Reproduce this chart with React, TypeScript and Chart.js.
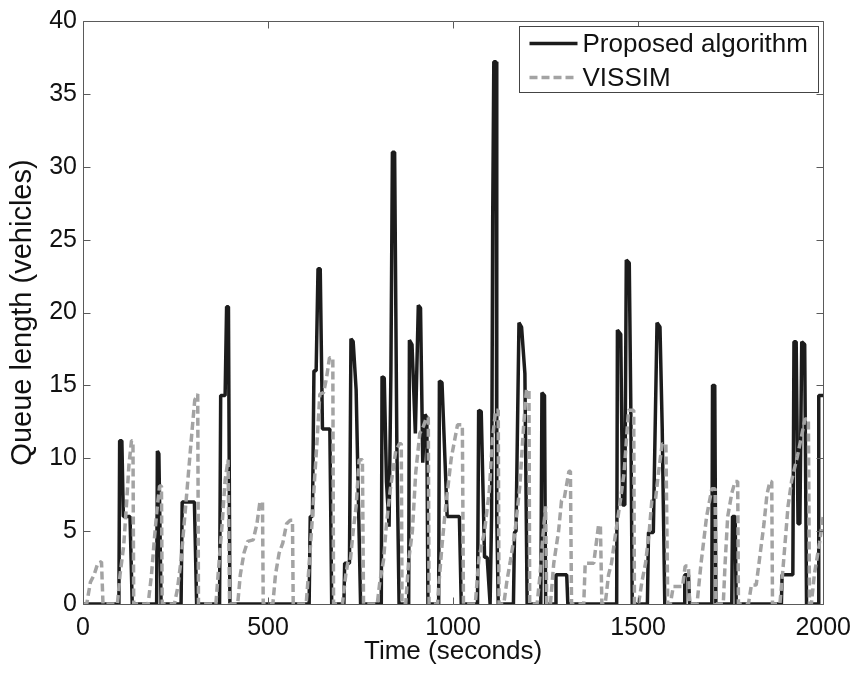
import React, { useEffect, useRef } from "react";
import { Chart, registerables } from "chart.js";

Chart.register(...registerables);

// ---- Data ----
const seriesNames = ["Proposed algorithm", "VISSIM"];

const proposedTime = [
  0, 97, 99, 105, 109, 127, 133,
  199, 201, 205, 211,
  265, 268, 301, 307,
  369, 372, 384, 388, 393, 397,
  611, 614, 620, 624, 630, 635, 641, 647, 667, 672,
  705, 707, 720, 724, 730, 738, 750,
  806, 808, 814, 820, 827, 832, 836, 842, 848, 854,
  880, 882, 889, 898, 906, 912, 918, 924, 929, 932,
  961, 963, 970, 984, 1017, 1022,
  1066, 1069, 1076, 1085, 1092, 1100, 1104, 1107, 1110, 1116, 1118, 1122,
  1163, 1166, 1170, 1178, 1185, 1194, 1200,
  1237, 1240, 1247, 1250,
  1276, 1278, 1307, 1310,
  1442, 1444, 1453, 1458, 1464, 1468, 1476, 1480, 1484,
  1525, 1528, 1541, 1551, 1559, 1565, 1572,
  1624, 1626, 1636, 1639,
  1699, 1701, 1707, 1710,
  1753, 1755, 1762, 1765,
  1887, 1889, 1918, 1921, 1927, 1932, 1937, 1942, 1950, 1955,
  1986, 1988, 2000,
];
const proposedQueue = [
  0, 0, 11.2, 11.2, 6.0, 6.0, 0,
  0, 10.5, 10.3, 0,
  0, 7.0, 7.0, 0,
  0, 14.3, 14.3, 20.4, 20.4, 0,
  0, 6.0, 6.0, 16.0, 16.0, 23.0, 23.0, 12.0, 12.0, 0,
  0, 2.8, 2.8, 18.2, 18.0, 14.7, 0,
  0, 15.6, 15.5, 8.4, 5.3, 16.0, 31.0, 31.0, 11.0, 0,
  0, 18.1, 17.8, 11.7, 20.5, 20.3, 9.7, 13.0, 12.8, 0,
  0, 15.3, 15.2, 6.0, 6.0, 0,
  0, 13.3, 13.2, 3.2, 3.2, 0, 6.0, 26.5, 37.2, 37.2, 6.0, 0,
  0, 4.9, 5.0, 19.3, 19.0, 15.8, 0,
  0, 14.5, 14.3, 0,
  0, 2.0, 2.0, 0,
  0, 18.8, 18.5, 6.8, 6.8, 23.6, 23.4, 14.0, 0,
  0, 4.9, 4.9, 19.3, 19.0, 12.1, 0,
  0, 2.0, 2.0, 0,
  0, 15.0, 15.0, 0,
  0, 6.0, 6.0, 0,
  0, 2.0, 2.0, 18.0, 18.0, 5.5, 5.5, 18.0, 17.8, 0,
  0, 14.3, 14.3,
];

const vissimTime = [
  0, 10, 20, 30, 40, 50, 54,
  93, 100, 110, 118, 124, 131, 135, 137,
  176, 185, 193, 200, 207, 212, 214,
  247, 255, 265, 275, 285, 295, 302, 310, 312,
  359, 368, 376, 384, 392, 396,
  418, 425, 435, 445, 460, 470, 478, 485, 487,
  513, 520, 530, 540, 550, 560, 566, 568,
  603, 612, 620, 626, 632, 640, 650, 658, 666, 675, 677,
  701, 710, 716, 722, 730, 738, 746, 755, 758,
  795, 802, 812, 820, 830, 845, 855, 860, 862,
  872, 880, 890, 899, 910, 920, 928, 933, 935,
  958, 962, 970, 980, 995, 1012, 1025, 1028,
  1060, 1070, 1085, 1098, 1106, 1115, 1122, 1124,
  1137, 1145, 1155, 1167, 1180, 1190, 1198, 1205, 1207,
  1227, 1235, 1242, 1250, 1253,
  1263, 1272, 1285, 1293, 1300, 1313, 1317, 1320,
  1353, 1357, 1380, 1393, 1398, 1402,
  1411, 1420, 1428, 1440, 1452, 1462, 1474, 1488, 1490,
  1501, 1510, 1520, 1530, 1537, 1547, 1555, 1565, 1575, 1580,
  1587, 1595, 1620, 1627, 1636, 1639,
  1659, 1670, 1678, 1685, 1699, 1708, 1710,
  1730, 1735, 1742, 1753, 1762, 1769, 1771,
  1798, 1806, 1819, 1830, 1840, 1848, 1856, 1861, 1863,
  1883, 1890, 1905, 1915, 1930, 1951, 1960, 1963,
  1968, 1976, 1990, 2000,
];
const vissimQueue = [
  0, 0, 1.5, 2.0, 2.8, 2.9, 0,
  0, 2.0, 4.0, 7.0, 9.5, 11.2, 11.2, 0,
  0, 2.0, 4.5, 6.5, 8.1, 8.1, 0,
  0, 1.0, 3.0, 6.0, 9.0, 12.0, 14.0, 14.4, 0,
  0, 3.0, 5.5, 8.5, 9.9, 0,
  0, 2.0, 3.5, 4.3, 4.4, 5.5, 7.0, 7.0, 0,
  0, 2.0, 3.5, 4.2, 5.5, 5.75, 5.75, 0,
  0, 3.0, 6.0, 8.7, 11.0, 14.4, 14.5, 15.5, 16.9, 16.9, 0,
  0, 2.0, 2.9, 2.9, 5.0, 6.7, 9.9, 9.9, 0,
  0, 1.5, 3.0, 5.5, 7.8, 10.5, 11.0, 11.0, 0,
  0, 3.0, 5.0, 9.0, 11.7, 12.2, 12.8, 12.8, 0,
  0, 1.5, 4.0, 6.7, 10.0, 12.3, 12.3, 0,
  0, 3.2, 5.0, 7.8, 11.2, 13.3, 13.3, 0,
  0, 1.5, 3.0, 4.9, 8.0, 12.0, 14.7, 14.7, 0,
  0, 2.0, 4.5, 6.7, 0,
  0, 2.8, 5.0, 7.1, 7.2, 9.1, 9.1, 0,
  0, 2.8, 2.8, 5.4, 5.4, 0,
  0, 2.0, 2.8, 5.0, 7.1, 9.0, 13.3, 13.3, 0,
  0, 1.5, 2.8, 5.0, 7.1, 7.2, 9.0, 11.0, 11.0, 0,
  0, 1.2, 1.2, 2.6, 2.6, 0,
  0, 2.8, 4.5, 6.0, 7.9, 7.9, 0,
  0, 2.8, 6.0, 7.6, 8.4, 8.4, 0,
  0, 1.3, 1.3, 3.5, 5.5, 7.5, 8.4, 8.4, 0,
  0, 2.0, 6.7, 8.5, 10.1, 12.7, 12.7, 0,
  0, 2.0, 4.2, 6.0,
];

const xTickValues = [0, 500, 1000, 1500, 2000];
const yTickValues = [0, 5, 10, 15, 20, 25, 30, 35, 40];

const FONT = "'Liberation Sans', Arial, Helvetica, sans-serif";

const boxPlugin = {
  id: "matlabBox",
  afterDatasetsDraw(chart: any) {
    const { ctx, chartArea: a, scales } = chart;
    ctx.save();
    ctx.strokeStyle = "#5a5a5a";
    ctx.lineWidth = 1;
    const L = Math.round(a.left) + 0.5;
    const R = Math.round(a.right) + 0.5;
    const T = Math.round(a.top) + 0.5;
    const B = Math.round(a.bottom) + 0.5;
    ctx.beginPath();
    ctx.rect(L, T, R - L, B - T);
    ctx.stroke();
    const tl = 7;
    ctx.beginPath();
    for (const v of xTickValues) {
      const px = Math.round(scales.x.getPixelForValue(v)) + 0.5;
      ctx.moveTo(px, B);
      ctx.lineTo(px, B - tl);
      ctx.moveTo(px, T);
      ctx.lineTo(px, T + tl);
    }
    for (const v of yTickValues) {
      const py = Math.round(scales.y.getPixelForValue(v)) + 0.5;
      ctx.moveTo(L, py);
      ctx.lineTo(L + tl, py);
      ctx.moveTo(R, py);
      ctx.lineTo(R - tl, py);
    }
    ctx.stroke();

    // legend box inside the axes (top-right)
    const bx = 519.5, by = 26.5, bw = 299, bh = 66;
    ctx.fillStyle = "#ffffff";
    ctx.fillRect(bx, by, bw, bh);
    ctx.strokeStyle = "#444";
    ctx.strokeRect(bx, by, bw, bh);
    const ds = chart.data.datasets;
    const rows = [43, 77];
    ds.forEach((d: any, i: number) => {
      const y = by + rows[i] - 26.5 + 0.5;
      ctx.save();
      ctx.strokeStyle = d.borderColor;
      ctx.lineWidth = d.borderWidth;
      ctx.setLineDash(d.borderDash || []);
      ctx.beginPath();
      ctx.moveTo(bx + 10, y);
      ctx.lineTo(bx + 58, y);
      ctx.stroke();
      ctx.restore();
      ctx.fillStyle = "#111";
      ctx.font = `26px ${FONT}`;
      ctx.textBaseline = "middle";
      ctx.textAlign = "left";
      ctx.fillText(d.label, bx + 63, y + 1);
    });
    ctx.restore();
  },
};

export default function App() {
  const ref = useRef<HTMLCanvasElement | null>(null);
  useEffect(() => {
    if (!ref.current) return;
    const proposed = proposedTime.map((t, i) => ({ x: t, y: proposedQueue[i] }));
    const vissim = vissimTime.map((t, i) => ({ x: t, y: vissimQueue[i] }));
    const chart = new Chart(ref.current, {
      type: "line",
      data: {
        datasets: [
          {
            label: seriesNames[0],
            data: proposed,
            borderColor: "#1c1c1c",
            borderWidth: 3.5,
            pointRadius: 0,
            tension: 0,
            borderJoinStyle: "bevel",
            order: 1,
          },
          {
            label: seriesNames[1],
            data: vissim,
            borderColor: "#a3a3a3",
            borderWidth: 3.5,
            borderDash: [8, 4],
            pointRadius: 0,
            tension: 0,
            borderJoinStyle: "bevel",
            order: 0,
          },
        ],
      },
      options: {
        animation: false,
        responsive: false,
        devicePixelRatio: 1,
        layout: { padding: { top: 20, right: 35, left: 0, bottom: 0 } },
        plugins: { legend: { display: false }, tooltip: { enabled: false } },
        scales: {
          x: {
            type: "linear",
            min: 0,
            max: 2000,
            afterFit: (s: any) => {
              s.height = 71;
            },
            afterBuildTicks: (s: any) => {
              s.ticks = xTickValues.map((v) => ({ value: v }));
            },
            grid: { display: false, drawTicks: false },
            border: { display: false },
            ticks: {
              color: "#111",
              font: { family: FONT, size: 25 },
              padding: 9,
              maxRotation: 0,
              callback: (v: any) => String(v),
            },
            title: {
              display: true,
              text: "Time (seconds)",
              color: "#111",
              font: { family: FONT, size: 26 },
              padding: { top: 0, bottom: 8 },
            },
          },
          y: {
            type: "linear",
            min: 0,
            max: 40,
            afterFit: (s: any) => {
              s.width = 83;
            },
            afterBuildTicks: (s: any) => {
              s.ticks = yTickValues.map((v) => ({ value: v }));
            },
            grid: { display: false, drawTicks: false },
            border: { display: false },
            ticks: {
              color: "#111",
              font: { family: FONT, size: 25 },
              padding: 6,
              callback: (v: any) => String(v),
            },
            title: {
              display: true,
              text: "Queue length (vehicles)",
              color: "#111",
              font: { family: FONT, size: 29 },
              padding: { top: 6, bottom: 0 },
            },
          },
        },
      },
      plugins: [boxPlugin],
    });
    return () => chart.destroy();
  }, []);
  return (
    <div style={{ position: "absolute", left: 0, top: 0, width: 860, height: 675, background: "#fff" }}>
      <canvas ref={ref} width={860} height={675} style={{ width: 860, height: 675, display: "block" }} />
    </div>
  );
}
